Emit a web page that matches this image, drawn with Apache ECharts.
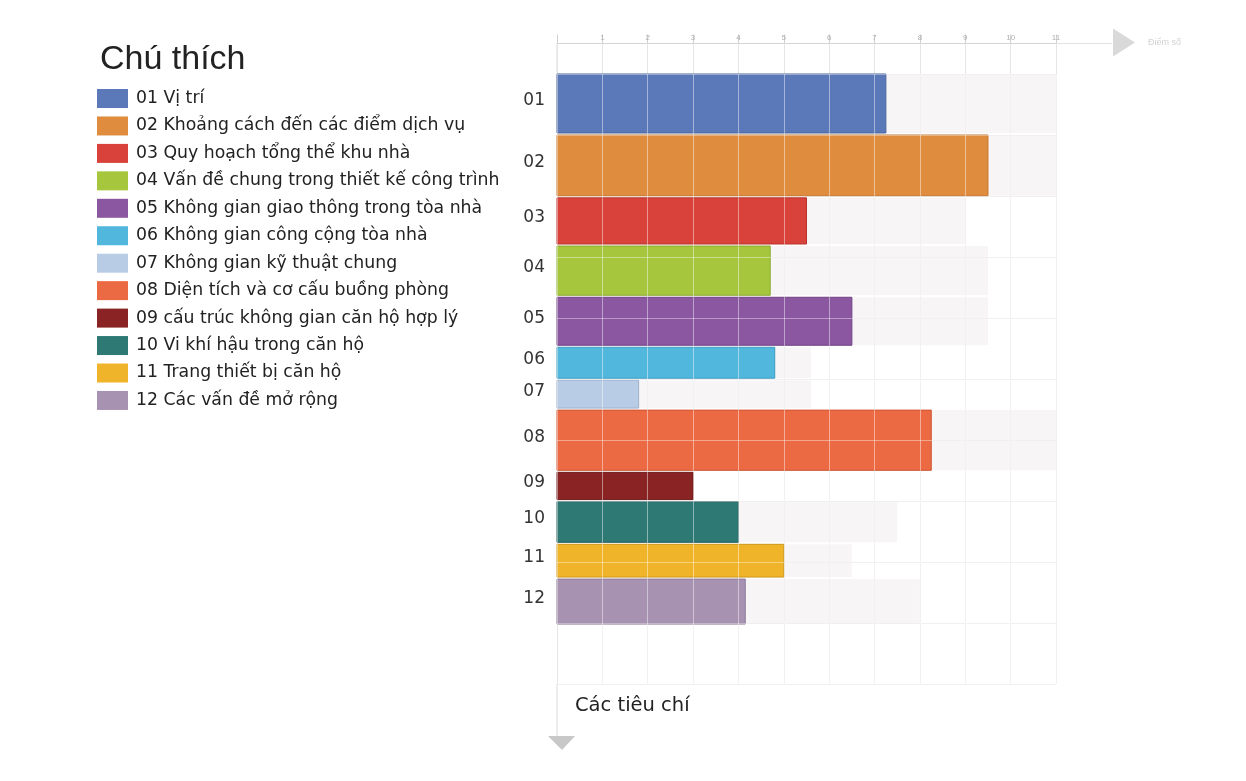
<!DOCTYPE html>
<html>
<head>
<meta charset="utf-8">
<script src="https://cdn.jsdelivr.net/npm/echarts@6/dist/echarts.min.js"></script>
<style>
  html, body { margin: 0; padding: 0; background: #ffffff; }
  #chart { width: 1246px; height: 781px; }
</style>
</head>
<body>
<div id="chart"></div>
<script>
// Criteria codes shown beside each bar
const codes = ['01', '02', '03', '04', '05', '06', '07', '08', '09', '10', '11', '12'];

// Legend entries
const names = [
  '01 Vị trí',
  '02 Khoảng cách đến các điểm dịch vụ',
  '03 Quy hoạch tổng thể khu nhà',
  '04 Vấn đề chung trong thiết kế công trình',
  '05 Không gian giao thông trong tòa nhà',
  '06 Không gian công cộng tòa nhà',
  '07 Không gian kỹ thuật chung',
  '08 Diện tích và cơ cấu buồng phòng',
  '09 cấu trúc không gian căn hộ hợp lý',
  '10 Vi khí hậu trong căn hộ',
  '11 Trang thiết bị căn hộ',
  '12 Các vấn đề mở rộng'
];

// Score of each criterion (bar length)
const scores = [7.25, 9.5, 5.5, 4.7, 6.5, 4.8, 1.8, 8.25, 3.0, 4.0, 5.0, 4.15];

// Weight of each criterion (bar thickness)
const weights = [1.0, 1.03, 0.79, 0.84, 0.82, 0.54, 0.49, 1.02, 0.48, 0.7, 0.57, 0.77];

// Faint reference level behind each bar
const ghost = [11, 11, 9, 9.5, 9.5, 5.6, 5.6, 11, 3.0, 7.5, 6.5, 8.0];

const colors = ['#5b79b8', '#df8c3e', '#d8423b', '#a6c73d', '#8a57a0', '#52b7dd',
                '#b9cce6', '#eb6a44', '#8a2424', '#2f7975', '#f0b42b', '#a792b2'];
const borders = ['#4a659d', '#c2732b', '#b8322c', '#8aa92e', '#704385', '#3c9cc0',
                 '#9bb0cc', '#cc5431', '#6e1a1a', '#225d5a', '#cf9618', '#8d7999'];

// Stack the variable-thickness bands top to bottom
const bandGap = 0.033;
const starts = [];
let acc = 0;
weights.forEach(w => { starts.push(acc); acc += w; });

const FONT = '"Liberation Sans", Arial, sans-serif';
const WIDE = '"DejaVu Sans", Verdana, sans-serif';

function barItem(params, api) {
  const p0 = api.coord([0, api.value(1)]);
  const p1 = api.coord([api.value(0), api.value(2)]);
  const midY = (p0[1] + p1[1]) / 2;
  return {
    type: 'group',
    children: [
      {
        type: 'rect',
        shape: { x: p0[0], y: p0[1], width: p1[0] - p0[0], height: p1[1] - p0[1] },
        style: api.style()
      },
      {
        type: 'text',
        silent: true,
        style: {
          x: p0[0] - 12, y: midY - 3,
          text: codes[params.seriesIndex - 1],
          textAlign: 'right', textVerticalAlign: 'middle',
          fontSize: 17, fontFamily: WIDE, fill: '#333333'
        }
      }
    ]
  };
}

function ghostItem(params, api) {
  const p0 = api.coord([0, api.value(1)]);
  const p1 = api.coord([api.value(0), api.value(2)]);
  return {
    type: 'rect',
    shape: { x: p0[0], y: p0[1], width: p1[0] - p0[0], height: p1[1] - p0[1] },
    style: { fill: 'rgba(236,228,231,0.38)' }
  };
}

const series = [{
  type: 'custom',
  name: 'nền',
  renderItem: ghostItem,
  xAxisIndex: 0, yAxisIndex: 0,
  encode: { x: 0, y: [1, 2] },
  data: ghost.map((g, i) => [g, starts[i], starts[i] + weights[i] - bandGap]),
  z: 1,
  silent: true
}];

names.forEach((n, i) => {
  series.push({
    type: 'custom',
    name: n,
    renderItem: barItem,
    xAxisIndex: 0, yAxisIndex: 0,
    encode: { x: 0, y: [1, 2] },
    itemStyle: { color: colors[i], borderColor: borders[i], borderWidth: 1 },
    data: [[scores[i], starts[i], starts[i] + weights[i] - bandGap]],
    z: 3
  });
});

const chart = echarts.init(document.getElementById('chart'), null, { renderer: 'canvas' });

const hidden = { axisLine: { show: false }, axisTick: { show: false }, axisLabel: { show: false } };

chart.setOption({
  backgroundColor: '#ffffff',
  animation: false,
  title: {
    text: 'Chú thích',
    left: 95, top: 38,
    textStyle: { fontSize: 34, fontWeight: 'normal', color: '#222222', fontFamily: FONT }
  },
  legend: {
    data: names,
    orient: 'vertical',
    left: 97, top: 89, padding: 0,
    itemWidth: 31, itemHeight: 19, itemGap: 8.45,
    icon: 'rect',
    itemStyle: { borderWidth: 0 },
    selectedMode: false,
    textStyle: { fontSize: 17.3, lineHeight: 19, color: '#222222', fontFamily: WIDE, padding: [0, 0, 0, 3] }
  },
  grid: { left: 557, right: 190, top: 74, bottom: 97 },
  xAxis: [
    {
      // score ruler: grey grid, axis line above the plot, small numbers
      type: 'value', position: 'top', offset: 30.5, min: 0, max: 11, interval: 1,
      axisLine: { show: true, onZero: false, lineStyle: { color: '#d4d4d4' } },
      axisTick: { show: true, length: 9, lineStyle: { color: '#d0d0d0' } },
      axisLabel: {
        margin: 2, fontSize: 8, color: '#b0b0b0', fontFamily: FONT,
        formatter: v => (v === 0 ? '' : String(v))
      },
      splitLine: { show: true, lineStyle: { color: '#e6e6e6', width: 1 } }
    },
    {
      // light grid drawn over the bars
      type: 'value', position: 'top', offset: 0, min: 0, max: 11, interval: 1, z: 10,
      ...hidden,
      splitLine: { show: true, lineStyle: { color: 'rgba(255,255,255,0.45)', width: 1 } }
    },
    {
      // tick strip between the ruler and the first band
      type: 'value', position: 'top', offset: 30.5, min: 0, max: 11, interval: 1,
      axisLine: { show: false, onZero: false },
      axisTick: { show: true, inside: true, length: 30.5, lineStyle: { color: '#e6e6e6' } },
      axisLabel: { show: false },
      splitLine: { show: false }
    }
  ],
  yAxis: [
    {
      type: 'value', inverse: true, min: 0, max: 10, interval: 1,
      axisLine: { show: true, onZero: false, lineStyle: { color: '#d4d4d4' } },
      axisTick: { show: false }, axisLabel: { show: false },
      splitLine: { show: true, lineStyle: { color: '#e6e6e6', width: 1 } }
    },
    {
      type: 'value', inverse: true, min: 0, max: 10, interval: 1, z: 10,
      ...hidden,
      splitLine: { show: true, lineStyle: { color: 'rgba(255,255,255,0.4)', width: 1 } }
    }
  ],
  series: series
});

// Axis arrows and titles drawn around the plot area
const origin = chart.convertToPixel({ xAxisIndex: 0, yAxisIndex: 0 }, [0, 0]);
const rulerY = origin[1] - 30.5;
const farX = chart.convertToPixel({ xAxisIndex: 0 }, 11);
const bottomY = chart.convertToPixel({ yAxisIndex: 0 }, 10);

chart.setOption({
  graphic: [
    {
      type: 'line', silent: true,
      shape: { x1: farX, y1: rulerY, x2: farX + 56, y2: rulerY },
      style: { stroke: '#e2e2e2', lineWidth: 1 }
    },
    {
      type: 'polygon', silent: true,
      shape: { points: [[farX + 57, rulerY - 15], [farX + 79, rulerY - 1], [farX + 57, rulerY + 13]] },
      style: { fill: '#d9d9d9' }
    },
    {
      type: 'text', silent: true,
      style: {
        x: farX + 92, y: rulerY - 1, text: 'Điểm số',
        fontSize: 9, fill: '#d2d2d2', fontFamily: FONT, textVerticalAlign: 'middle'
      }
    },
    {
      type: 'line', silent: true,
      shape: { x1: origin[0], y1: rulerY, x2: origin[0], y2: origin[1] },
      style: { stroke: '#dadada', lineWidth: 1 }
    },
    {
      type: 'line', silent: true,
      shape: { x1: origin[0], y1: bottomY, x2: origin[0], y2: bottomY + 52 },
      style: { stroke: '#dadada', lineWidth: 1 }
    },
    {
      type: 'polygon', silent: true,
      shape: { points: [[origin[0] - 9, bottomY + 52], [origin[0] + 18, bottomY + 52], [origin[0] + 5, bottomY + 66]] },
      style: { fill: '#c8c8c8' }
    },
    {
      type: 'text', silent: true,
      style: {
        x: origin[0] + 18, y: bottomY + 22, text: 'Các tiêu chí',
        fontSize: 19.5, fill: '#222222', fontFamily: WIDE, textVerticalAlign: 'middle'
      }
    }
  ]
});
</script>
</body>
</html>
